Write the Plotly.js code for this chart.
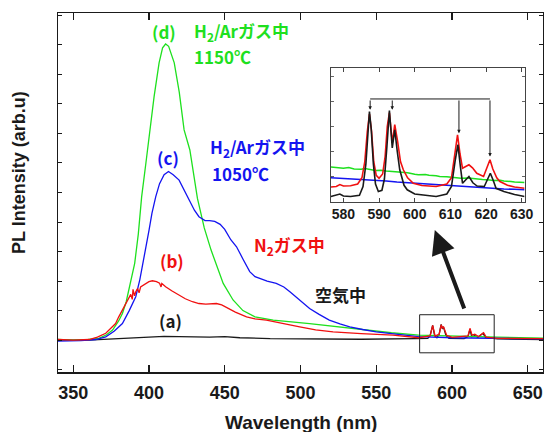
<!DOCTYPE html>
<html><head><meta charset="utf-8">
<script src="https://cdn.plot.ly/plotly-3.0.1.min.js"></script>
<style>html,body{margin:0;padding:0;background:#fff}#g{width:544px;height:432px}</style>
</head><body><div id="g"></div>
<script>
// ---- main spectra (x: wavelength nm, y: arb. units) ----
var wl_a  = [340,360,380,390,400,410,420,440,450,460,480,500,540,576,584,585.5,587.2,588.5,590,591.5,592.8,593.6,594.3,596,598,608,610.5,611.8,613,615,617,620.5,622,630,660];
var int_a = [0.0,0.0,0.05,0.08,0.12,0.13,0.12,0.1,0.12,0.08,0.05,0.04,0.03,0.05,0.06,0.15,0.5,0.15,0.08,0.2,0.53,0.38,0.45,0.15,0.06,0.05,0.12,0.36,0.12,0.15,0.1,0.23,0.09,0.04,0.02];

var wl_b  = [340,350,360.5,366,371.5,375,378,380,382.5,385,386.9,388,389,389.5,390.5,391.3,392.5,393.5,394.5,396,398,400,402.3,405,407,408,408.5,411,415,419.9,424,428.7,433,437.5,441,444.5,448,451,457,464.4,470,477.5,488,499.5,510,521.5,540,561,578,585.5,587.2,588.8,591.5,592.8,593.6,594.3,596.5,600,610.5,611.8,613.2,615,617.5,620.8,622.5,630,660];
var int_b = [0.02,0.0,0.02,0.1,0.23,0.4,0.56,0.78,1.02,1.3,1.47,1.55,1.38,1.72,1.5,1.64,1.75,1.6,1.8,1.85,1.93,1.98,2.01,1.98,1.93,1.8,1.92,1.81,1.67,1.53,1.4,1.3,1.24,1.22,1.23,1.24,1.19,1.11,0.95,0.79,0.72,0.68,0.56,0.45,0.35,0.28,0.22,0.17,0.08,0.14,0.5,0.14,0.2,0.52,0.4,0.46,0.16,0.09,0.14,0.4,0.17,0.2,0.12,0.25,0.1,0.06,0.05];

var wl_c  = [340,355,365,371.5,377,382.5,387,391.3,394,396.1,398,400.1,402,404.5,407,410,412.9,416,419.9,425.4,430,433,437,440,443.4,447,450,454,457.8,462,466.5,470,473,478,484,489,493,500,506,512,519,526,532.5,541,550,563,578,600,630,660];
var int_c = [-0.03,-0.02,0.02,0.11,0.3,0.56,1.0,1.47,2.05,2.6,3.15,3.73,4.3,4.86,5.3,5.6,5.71,5.6,5.42,4.86,4.4,4.18,4.05,4.05,4.02,3.92,3.75,3.4,3.16,2.75,2.32,2.15,2.09,2.0,1.92,1.8,1.64,1.35,1.07,0.88,0.68,0.55,0.45,0.36,0.28,0.2,0.12,0.08,0.05,0.04];

var wl_d  = [340,350,360,367,372,376,380,382.5,385,388,390.6,393,395.2,398,400.7,403.4,406.7,409,411,413,416.7,420,423.2,427,432,436.5,441,449,455.5,462,470,482,506,532,560,578,600,630,660];
var int_d = [0.02,0.0,0.02,0.06,0.18,0.34,0.65,0.9,1.3,1.95,2.6,3.6,4.86,6.0,7.12,8.25,9.39,9.9,10.03,9.95,9.39,8.4,7.12,6.44,4.8,3.8,3.05,1.92,1.36,1.0,0.79,0.68,0.56,0.4,0.25,0.17,0.13,0.1,0.07];

// ---- inset spectra (576-631 nm) ----
var iw_a = [576.5,578,579,580,582,584.5,585.5,586.3,586.9,587.3,587.8,588.4,589,589.8,590.8,591.5,592.2,592.9,593.7,594.4,595.1,595.8,597,597.9,600,603,606,609,610.3,611.3,612.1,612.8,613.4,614.2,615.2,616.3,617.5,619.5,620.5,621.2,622,622.8,625,628,630.8];
var ii_a = [0.2,0.25,0.3,0.22,0.2,0.25,0.6,1.5,2.9,3.6,2.9,1.5,0.7,0.4,0.45,0.9,2.2,3.64,2.14,2.87,2.0,1.27,0.65,0.47,0.3,0.25,0.2,0.3,0.6,1.6,2.27,1.4,0.73,0.85,1.0,0.75,0.62,0.6,0.95,1.13,0.85,0.53,0.4,0.28,0.2];

var iw_b = [576.5,578,579,580,582,584,585.2,586,586.7,587.3,587.9,588.5,589.2,590,591,591.7,592.3,592.9,593.7,594.4,595.2,596,596.8,598,599.6,602,606,609,610.3,611.2,612,612.7,613.4,614.3,615.2,616.2,617.4,619.3,620.3,621.1,621.9,623,623.9,626,628,630.8];
var ii_b = [0.58,0.6,0.68,0.62,0.63,0.7,0.95,1.6,2.8,3.5,2.8,1.6,1.05,0.93,1.1,1.8,3.0,3.55,2.35,3.07,2.4,1.6,1.27,0.95,0.73,0.64,0.6,0.7,0.95,1.9,2.67,1.9,1.33,1.4,1.47,1.35,1.13,1.0,1.35,1.67,1.3,0.95,0.8,0.65,0.58,0.53];

var iw_c = [576.5,578,580,582,585,588,590,592,595,598,600,603,605,608,610,613,615,618,620,623,625,628,630.8];
var ii_c = [0.95,0.94,0.92,0.91,0.88,0.86,0.84,0.82,0.78,0.75,0.72,0.7,0.68,0.66,0.64,0.62,0.6,0.57,0.55,0.52,0.5,0.49,0.47];

var iw_d = [576.5,578,580,581.5,583,585,586,589,590.5,592,593.5,595,597,598,600,601,603,604,606,607,609,610,612,613,615,616,618,619,621,622,624,625,627,628,630.8];
var ii_d = [1.38,1.35,1.33,1.36,1.3,1.29,1.32,1.24,1.25,1.22,1.2,1.17,1.14,1.15,1.09,1.07,1.08,1.05,1.03,1.0,0.99,0.97,0.95,0.93,0.94,0.92,0.89,0.88,0.86,0.84,0.85,0.82,0.8,0.78,0.76];

// bracket arrows in inset (peak positions and tip heights)
var arrowX   = [587.5, 593.7, 612.4, 621.1];
var arrowTip = [3.67, 3.67, 2.73, 1.8];
var bracketY = 4.1;

var xTicks  = [350,400,450,500,550,600,650];
var ixTicks = [580,590,600,610,620,630];

var GREEN = '#1ee01e', BLUE = '#1414f0', RED = '#f01010', BLACK = '#1a1a1a';
var JP = '"Noto Sans CJK JP", "Liberation Sans", sans-serif';
var LAT = '"Liberation Sans", Arial, sans-serif';

function tr(x, y, c, xa, ya, w) {
  return {x: x, y: y, mode: 'lines', line: {color: c, width: w}, xaxis: xa, yaxis: ya, hoverinfo: 'skip', showlegend: false};
}
var data = [
  tr(wl_a, int_a, BLACK, 'x', 'y', 1.3),
  tr(wl_d, int_d, GREEN, 'x', 'y', 1.3),
  tr(wl_c, int_c, BLUE, 'x', 'y', 1.3),
  tr(wl_b, int_b, RED, 'x', 'y', 1.3),
  tr(iw_d, ii_d, GREEN, 'x2', 'y2', 1.6),
  tr(iw_c, ii_c, BLUE, 'x2', 'y2', 1.6),
  tr(iw_b, ii_b, RED, 'x2', 'y2', 1.6),
  tr(iw_a, ii_a, BLACK, 'x2', 'y2', 1.6)
];

function lab(text, x, y, color, xanchor, size) {
  return {text: text, x: x, y: y, xref: 'x', yref: 'y', showarrow: false, xanchor: xanchor, yanchor: 'middle',
          font: {family: JP, size: size || 17, color: color, weight: 'bold'}};
}
var ann = [
  lab('(d)', 409.8, 10.47, GREEN, 'center'),
  lab('H<sub>2</sub>/Arガス中', 428.3, 10.47, GREEN, 'left'),
  lab('1150℃', 428.3, 9.6, GREEN, 'left'),
  lab('(c)', 412.7, 6.2, BLUE, 'center'),
  lab('H<sub>2</sub>/Arガス中', 438.8, 6.54, BLUE, 'left'),
  lab('1050℃', 440.1, 5.65, BLUE, 'left'),
  lab('(b)', 415, 2.71, RED, 'center'),
  lab('N<sub>2</sub>ガス中', 467.7, 3.22, RED, 'left'),
  lab('空気中', 508.1, 1.53, BLACK, 'left'),
  lab('(a)', 414.4, 0.68, BLACK, 'center'),
  {text: '', x: 588.6, y: 3.73, xref: 'x', yref: 'y', ax: 30, ay: 80, showarrow: true,
   arrowhead: 2, arrowsize: 1.2, arrowwidth: 4, arrowcolor: BLACK},
  {text: 'Wavelength (nm)', x: 0.5, y: -0.142, xref: 'paper', yref: 'paper', showarrow: false,
   xanchor: 'center', yanchor: 'middle', font: {family: LAT, size: 19, color: BLACK, weight: 'bold'}},
  {text: 'PL Intensity (arb.u)', x: -0.08, y: 0.555, xref: 'paper', yref: 'paper', showarrow: false,
   textangle: -90, xanchor: 'center', yanchor: 'middle', font: {family: LAT, size: 18, color: BLACK, weight: 'bold'}}
];
for (var i = 0; i < arrowX.length; i++) {
  ann.push({text: '', x: arrowX[i], y: arrowTip[i], xref: 'x2', yref: 'y2', ax: arrowX[i], ay: bracketY,
            axref: 'x2', ayref: 'y2', showarrow: true, arrowhead: 2, arrowsize: 0.7, arrowwidth: 1, arrowcolor: BLACK});
}

var layout = {
  width: 544, height: 432,
  margin: {l: 58, r: 1, t: 13, b: 60},
  paper_bgcolor: '#fff', plot_bgcolor: '#fff',
  showlegend: false,
  xaxis: {range: [340, 660], tickvals: xTicks, ticks: 'inside', ticklen: 7, tickwidth: 1.2, tickcolor: BLACK,
          showline: true, linecolor: BLACK, linewidth: 1.5, mirror: 'ticks', showgrid: false, zeroline: false,
          tickfont: {family: LAT, size: 18, color: BLACK, weight: 'bold'}, ticklabelstandoff: 4},
  yaxis: {range: [-1.08, 11.08], tick0: 0, dtick: 1, ticks: 'inside', ticklen: 4, tickwidth: 1, tickcolor: BLACK,
          showticklabels: false, showline: true, linecolor: BLACK, linewidth: 1.5, mirror: 'ticks', showgrid: false, zeroline: false},
  xaxis2: {domain: [0.562, 0.962], anchor: 'y2', range: [576.4, 630.8], tickvals: ixTicks, ticks: 'inside', ticklen: 4,
           tickcolor: '#444', showline: true, linecolor: '#444', linewidth: 1, mirror: 'ticks', showgrid: false, zeroline: false,
           tickfont: {family: LAT, size: 14, color: BLACK, weight: 'bold'}},
  yaxis2: {domain: [0.4748, 0.8467], anchor: 'x2', range: [0, 5.336], tick0: 0, dtick: 1, ticks: 'inside', ticklen: 3,
           tickcolor: '#666', showticklabels: false, showline: true, linecolor: '#444', linewidth: 1, mirror: 'ticks',
           showgrid: false, zeroline: false},
  shapes: [
    {type: 'rect', xref: 'x', yref: 'y', x0: 578.6, x1: 627.8, y0: -0.43, y1: 0.86, line: {color: '#222', width: 1}},
    {type: 'line', xref: 'x2', yref: 'y2', x0: arrowX[0], x1: arrowX[3], y0: bracketY, y1: bracketY, line: {color: BLACK, width: 1}}
  ],
  annotations: ann
};
Plotly.newPlot('g', data, layout, {displayModeBar: false, staticPlot: true});
</script></body></html>
